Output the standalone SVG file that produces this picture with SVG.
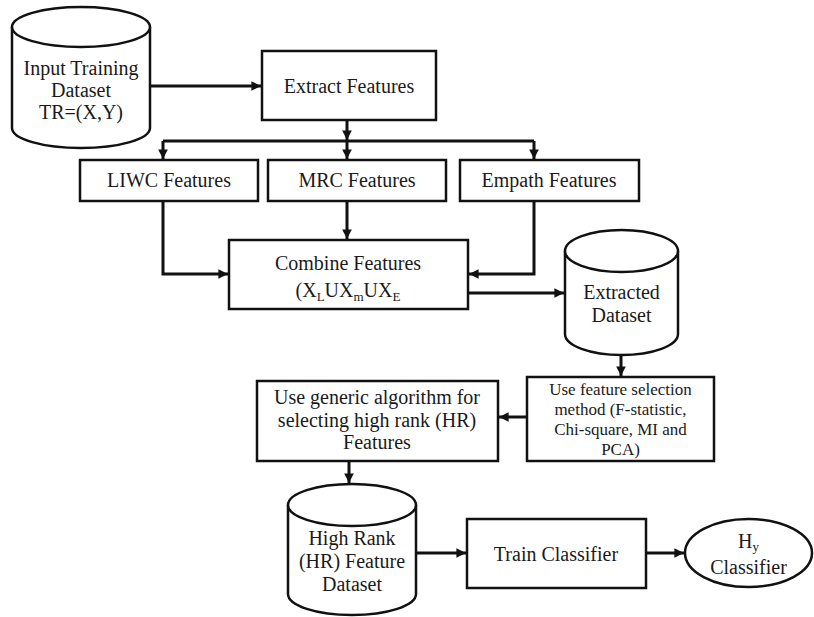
<svg xmlns="http://www.w3.org/2000/svg" width="814" height="617" viewBox="0 0 814 617">
  <style>
    .box { fill: #ffffff; stroke: #111111; stroke-width: 2.5; }
    .shape { fill: #ffffff; stroke: #111111; stroke-width: 2.5; }
    .line { fill: none; stroke: #111111; stroke-width: 3; }
    text { font-family: "Liberation Serif", "DejaVu Serif", serif; font-size: 20px; fill: #1a1a1a; text-anchor: middle; }
    .small { font-size: 17px; }
    .sub { font-size: 13px; }
  </style>
  <defs>
    <marker id="arrow" viewBox="0 0 10 10" refX="10" refY="5" markerWidth="3.2" markerHeight="3.2" orient="auto" markerUnits="strokeWidth">
      <path d="M0,0 L10,5 L0,10 z" fill="#111111"/>
    </marker>
  </defs>
  <rect x="0" y="0" width="814" height="617" fill="#ffffff"/>

  <!-- connectors -->
  <g id="connectors">
    <path class="line" d="M150,86 H261" marker-end="url(#arrow)"/>
    <path class="line" d="M347,120 V140" marker-end="url(#arrow)"/>
    <path class="line" d="M163,141 H534"/>
    <path class="line" d="M163,141 V159" marker-end="url(#arrow)"/>
    <path class="line" d="M347,141 V159" marker-end="url(#arrow)"/>
    <path class="line" d="M534,141 V159" marker-end="url(#arrow)"/>
    <path class="line" d="M347,201 V239" marker-end="url(#arrow)"/>
    <path class="line" d="M163,201 V274 H228" marker-end="url(#arrow)"/>
    <path class="line" d="M534,201 V274 H469" marker-end="url(#arrow)"/>
    <path class="line" d="M468,293 H564" marker-end="url(#arrow)"/>
    <path class="line" d="M621,355 V376" marker-end="url(#arrow)"/>
    <path class="line" d="M527,417 H499" marker-end="url(#arrow)"/>
    <path class="line" d="M349,461 V483" marker-end="url(#arrow)"/>
    <path class="line" d="M416,553 H466" marker-end="url(#arrow)"/>
    <path class="line" d="M646,553 H684" marker-end="url(#arrow)"/>
  </g>

  <!-- Input Training Dataset (cylinder) -->
  <g id="input-dataset">
    <path class="shape" d="M12,27 V128 A69,20 0 0 0 150,128 V27"/>
    <ellipse class="shape" cx="81" cy="27" rx="69" ry="20"/>
    <text x="81" y="75">Input Training</text>
    <text x="81" y="97">Dataset</text>
    <text x="81" y="119">TR=(X,Y)</text>
  </g>

  <g id="extract-features">
    <rect class="box" x="262" y="51" width="174" height="69"/>
    <text x="349" y="93">Extract Features</text>
  </g>

  <g id="liwc-features">
    <rect class="box" x="80" y="160" width="178" height="41"/>
    <text x="169" y="187">LIWC Features</text>
  </g>

  <g id="mrc-features">
    <rect class="box" x="268" y="160" width="178" height="41"/>
    <text x="357" y="187">MRC Features</text>
  </g>

  <g id="empath-features">
    <rect class="box" x="460" y="160" width="179" height="41"/>
    <text x="549" y="187">Empath Features</text>
  </g>

  <g id="combine-features">
    <rect class="box" x="229" y="240" width="239" height="69"/>
    <text x="348" y="270">Combine Features</text>
    <text x="348" y="297">(X<tspan class="sub" dy="4">L</tspan><tspan dy="-4">UX</tspan><tspan class="sub" dy="4">m</tspan><tspan dy="-4">UX</tspan><tspan class="sub" dy="4">E</tspan></text>
  </g>

  <!-- Extracted Dataset (cylinder) -->
  <g id="extracted-dataset">
    <path class="shape" d="M565,251 V334 A56.5,21 0 0 0 678,334 V251"/>
    <ellipse class="shape" cx="621.5" cy="251" rx="56.5" ry="21"/>
    <text x="621.5" y="299">Extracted</text>
    <text x="621.5" y="322">Dataset</text>
  </g>

  <g id="feature-selection">
    <rect class="box" x="527" y="377" width="187" height="84"/>
    <text class="small" x="620.5" y="395">Use feature selection</text>
    <text class="small" x="620.5" y="415">method (F-statistic,</text>
    <text class="small" x="620.5" y="435">Chi-square, MI and</text>
    <text class="small" x="620.5" y="455">PCA)</text>
  </g>

  <g id="generic-algorithm">
    <rect class="box" x="257" y="381" width="241" height="80"/>
    <text x="377" y="404">Use generic algorithm for</text>
    <text x="377" y="427">selecting high rank (HR)</text>
    <text x="377" y="449">Features</text>
  </g>

  <!-- High Rank Feature Dataset (cylinder) -->
  <g id="hr-dataset">
    <path class="shape" d="M288,505 V594 A64,21 0 0 0 416,594 V505"/>
    <ellipse class="shape" cx="352" cy="505" rx="64" ry="21"/>
    <text x="352" y="545">High Rank</text>
    <text x="352" y="568">(HR) Feature</text>
    <text x="352" y="591">Dataset</text>
  </g>

  <g id="train-classifier">
    <rect class="box" x="467" y="519" width="179" height="69"/>
    <text x="556" y="561">Train Classifier</text>
  </g>

  <g id="hy-classifier">
    <ellipse class="shape" cx="748.5" cy="553" rx="63.5" ry="34"/>
    <text x="748.5" y="548">H<tspan class="sub" dy="3">y</tspan></text>
    <text x="748.5" y="574">Classifier</text>
  </g>
</svg>
